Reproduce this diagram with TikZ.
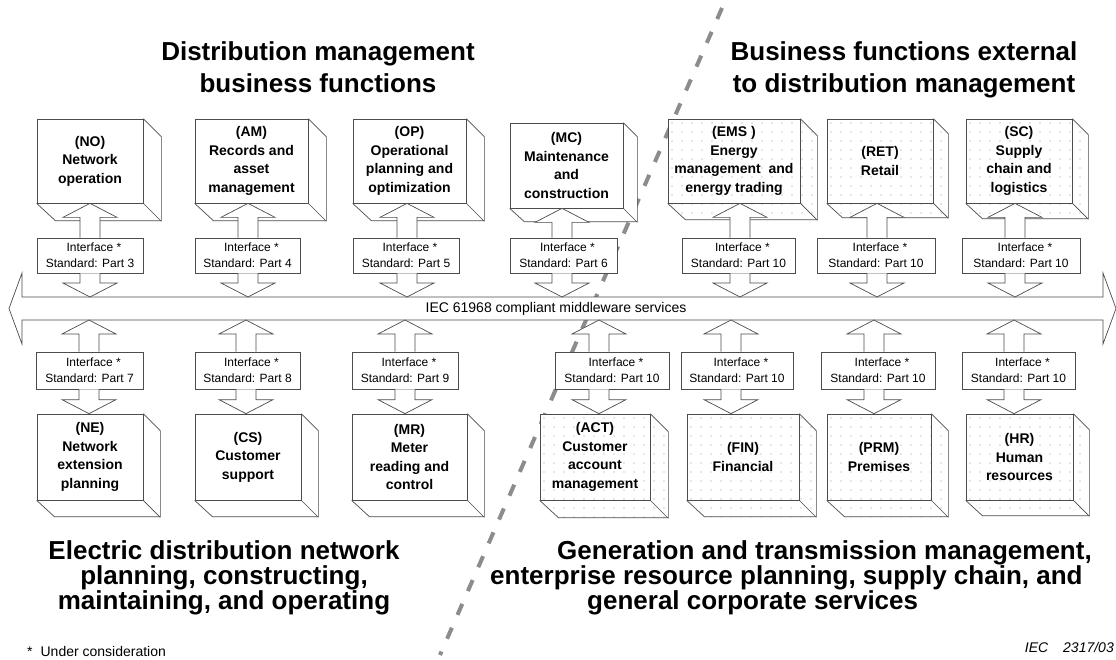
\documentclass[tikz,border=0pt]{standalone}
\usepackage{fontspec}
\setmainfont{Liberation Sans}
\usetikzlibrary{calc}

\tikzset{
  ln/.style={draw=black!70, line width=0.7pt},
  front/.style={ln, inner sep=0pt, align=center, font=\fontsize{14}{18.5}\selectfont\bfseries},
  iface/.style={ln, fill=white, inner sep=0pt, align=center, font=\fontsize{12}{16}\selectfont},
  blockarrow/.style={ln, fill=white, line join=miter},
  facefill/.style={fill=white},
  dotc/.style={fill=black!40},
  sepline/.style={draw=black!45, line width=4pt, dash pattern=on 12pt off 14pt},
  headtxt/.style={align=center, font=\fontsize{26}{32}\selectfont\bfseries, inner sep=0pt},
  foottxt/.style={align=center, font=\fontsize{26}{25}\selectfont\bfseries, inner sep=0pt},
}

% #1 name, #2 x1, #3 y1, #4 x2, #5 y2, #6 depth, #7 dotted (1/0), #8 text
\newcommand{\Cube}[8]{%
  \path[facefill] (#2,#3) -- (#4,#3) -- (#4+#6,#3+#6) -- (#4+#6,#5+#6) -- (#2+#6,#5+#6) -- (#2,#5) -- cycle;
  \ifnum#7=1\relax
    \begin{scope}
      \clip (#2,#3) -- (#4,#3) -- (#4+#6,#3+#6) -- (#4+#6,#5+#6) -- (#2+#6,#5+#6) -- (#2,#5) -- cycle;
      \foreach \i in {0,...,15} {\foreach \j in {0,...,12} {\fill[dotc] (#2+4+\i*10,#3+4+\j*9) circle (0.6);}}
    \end{scope}
  \fi
  \node[front, minimum width=#4-#2, minimum height=#5-#3] (#1) at ({(#2+#4)/2},{(#3+#5)/2}) {#8};
  \draw[ln, line join=miter] (#1.north east) -- ++(#6,#6) -- ++(0,#5-#3) -- ++(-#4+#2,0) -- (#1.south west);
  \draw[ln] (#1.south east) -- ++(#6,#6);
}

% #1 name, #2 x1, #3 y1, #4 x2, #5 y2, #6 part
\newcommand{\Iface}[6]{%
  \node[iface, minimum width=#4-#2, minimum height=#5-#3] (#1) at ({(#2+#4)/2},{(#3+#5)/2}) {Interface\rlap{ *}\\Standard: Part #6};
}

% #1 x, #2 tail, #3 tip (tip above tail)
\newcommand{\ArrUp}[3]{%
  \path[blockarrow] let \p1=(#2), \p2=(#3) in
    (#1pt-10pt,\y1) -- (#1pt-10pt,\y2-14pt) -- (#1pt-27pt,\y2-14pt) -- (#1pt,\y2)
    -- (#1pt+27pt,\y2-14pt) -- (#1pt+10pt,\y2-14pt) -- (#1pt+10pt,\y1);
}
% #1 x, #2 tail, #3 tip (tip below tail)
\newcommand{\ArrDown}[3]{%
  \path[blockarrow] let \p1=(#2), \p2=(#3) in
    (#1pt-10pt,\y1) -- (#1pt-10pt,\y2+14pt) -- (#1pt-27pt,\y2+14pt) -- (#1pt,\y2)
    -- (#1pt+27pt,\y2+14pt) -- (#1pt+10pt,\y2+14pt) -- (#1pt+10pt,\y1);
}

\begin{document}
\begin{tikzpicture}[x=1pt,y=-1pt]
\useasboundingbox (0,0) rectangle (1116,659);

% separator between the two domains
\draw[sepline] (722,8) -- (440,655);

% middleware bus
\path[blockarrow] (22,297) -- (22,273) -- (9,308.5) -- (22,344) -- (22,320) -- (1103,320)
  -- (1103,344) -- (1116,308.5) -- (1103,273) -- (1103,297) -- cycle;
\node[font=\fontsize{14}{16}\selectfont, inner sep=0pt] (bus) at (556,308.5) {IEC 61968 compliant middleware services};
\coordinate (bustop) at (556,297);
\coordinate (busbot) at (556,320);

% titles
\node[headtxt] (tl) at (318,67.5) {Distribution management\\business functions};
\node[headtxt] (tr) at (904,70) {Business functions external\\to distribution management};
\node[foottxt] (bl) at (224,578) {Electric distribution network\\planning, constructing,\\maintaining, and operating};
\node[foottxt, align=left, anchor=west] (br) at (490,578) {\hspace{67pt}Generation and transmission management,\\enterprise resource planning, supply chain, and\\\hspace{97pt}general corporate services};

% top row boxes
\Cube{no}{37}{119}{143}{203}{18}{0}{(NO)\\Network\\operation}
\Cube{am}{195}{119}{308}{203}{18}{0}{(AM)\\Records and\\asset\\management}
\Cube{op}{353}{119}{466}{203}{18}{0}{(OP)\\Operational\\planning and\\optimization}
\Cube{mc}{510}{123}{623}{208}{14}{0}{(MC)\\Maintenance\\and\\construction}
\Cube{ems}{668}{119}{800}{203}{17}{1}{(EMS )\\Energy\\management~ and\\energy trading}
\Cube{ret}{827}{119}{933}{203}{15}{1}{(RET)\\Retail}
\Cube{sc}{966}{119}{1072}{203}{16}{1}{(SC)\\Supply\\chain and\\logistics}

% top row interfaces
\Iface{noi}{37}{238}{143}{273}{3}
\Iface{ami}{195}{238}{300}{273}{4}
\Iface{opi}{353}{238}{459}{273}{5}
\Iface{mci}{510}{238}{617}{273}{6}
\Iface{emsi}{682}{238}{795}{273}{10}
\Iface{reti}{817}{238}{935}{273}{10}
\Iface{sci}{962}{238}{1080}{273}{10}

% top row arrows
\ArrUp{90}{noi.north}{no.south}     \ArrDown{90}{noi.south}{bustop}
\ArrUp{248}{ami.north}{am.south}    \ArrDown{248}{ami.south}{bustop}
\ArrUp{407}{opi.north}{op.south}    \ArrDown{407}{opi.south}{bustop}
\ArrUp{562}{mci.north}{mc.south}    \ArrDown{562}{mci.south}{bustop}
\ArrUp{740}{emsi.north}{ems.south}  \ArrDown{740}{emsi.south}{bustop}
\ArrUp{877}{reti.north}{ret.south}  \ArrDown{877}{reti.south}{bustop}
\ArrUp{1015}{sci.north}{sc.south}   \ArrDown{1015}{sci.south}{bustop}

% bottom row boxes
\Cube{ne}{37}{414}{143}{500}{17}{0}{(NE)\\Network\\extension\\planning}
\Cube{cs}{195}{414}{301}{500}{17}{0}{(CS)\\Customer\\support}
\Cube{mr}{352}{414}{467}{500}{17}{0}{(MR)\\Meter\\reading and\\control}
\Cube{act}{540}{414}{650}{500}{18}{1}{(ACT)\\Customer\\account\\management}
\Cube{fin}{687}{414}{799}{500}{17}{1}{(FIN)\\Financial}
\Cube{prm}{827}{414}{931}{500}{17}{1}{(PRM)\\Premises}
\Cube{hr}{966}{414}{1073}{500}{16}{1}{(HR)\\Human\\resources}

% bottom row interfaces
\Iface{nei}{36}{352}{143}{389}{7}
\Iface{csi}{195}{352}{300}{389}{8}
\Iface{mri}{352}{352}{458}{389}{9}
\Iface{acti}{555}{352}{669}{389}{10}
\Iface{fini}{681}{352}{793}{389}{10}
\Iface{prmi}{821}{352}{935}{389}{10}
\Iface{hri}{962}{352}{1075}{389}{10}

% bottom row arrows
\ArrUp{89}{nei.north}{busbot}     \ArrDown{89}{nei.south}{ne.north}
\ArrUp{246}{csi.north}{busbot}    \ArrDown{246}{csi.south}{cs.north}
\ArrUp{405}{mri.north}{busbot}    \ArrDown{405}{mri.south}{mr.north}
\ArrUp{599}{acti.north}{busbot}   \ArrDown{599}{acti.south}{act.north}
\ArrUp{731}{fini.north}{busbot}   \ArrDown{731}{fini.south}{fin.north}
\ArrUp{874}{prmi.north}{busbot}   \ArrDown{874}{prmi.south}{prm.north}
\ArrUp{1014}{hri.north}{busbot}   \ArrDown{1014}{hri.south}{hr.north}

% footnotes
\node[anchor=west, font=\fontsize{14}{16}\selectfont, inner sep=0pt] (note) at (27,651) {*\hspace{8pt}Under consideration};
\node[anchor=east, font=\fontsize{14}{16}\selectfont\itshape, inner sep=0pt] (ref) at (1114,647) {IEC\hspace{15pt}2317/03};
\end{tikzpicture}
\end{document}
